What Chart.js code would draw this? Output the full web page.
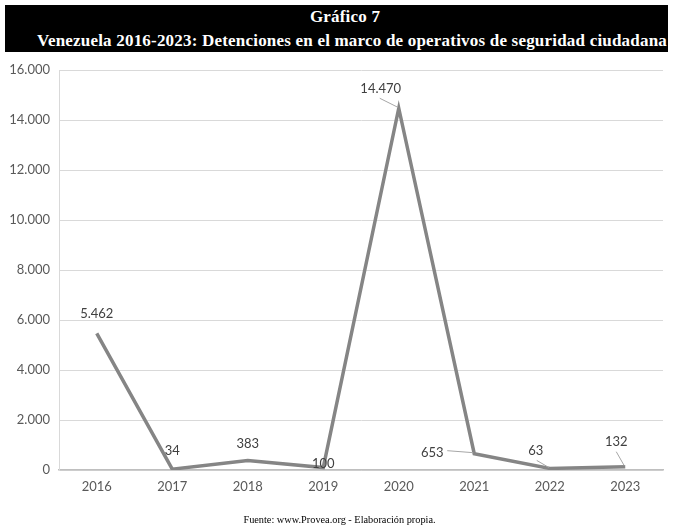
<!DOCTYPE html>
<html><head><meta charset="utf-8">
<script src="https://cdn.jsdelivr.net/npm/chart.js@4"></script>
<style>
html,body{margin:0;padding:0;background:#fff;width:679px;height:529px;overflow:hidden;}
#hdr{position:absolute;left:5px;top:5px;width:663px;height:47px;background:#000;color:#fff;font-family:"Liberation Serif",serif;font-weight:bold;font-size:17px;letter-spacing:0.2px;text-align:center;line-height:24px;}
#hdr div{white-space:nowrap;}
#l1{padding-left:17px;}
#l2{padding-left:31px;}
#wrap{position:absolute;left:0;top:0;width:679px;height:529px;}
#foot{position:absolute;left:0;top:514px;width:679px;text-align:center;font-family:"Liberation Serif",serif;font-size:10.3px;color:#000;}
</style></head><body>
<div id="wrap"><canvas id="c" width="679" height="529"></canvas></div>
<div id="hdr"><div id="l1">Gráfico 7</div><div id="l2">Venezuela 2016-2023: Detenciones en el marco de operativos de seguridad ciudadana</div></div>
<div id="foot">Fuente: www.Provea.org - Elaboración propia.</div>
<script>
const years = ["2016","2017","2018","2019","2020","2021","2022","2023"];
const detenciones = [5462, 34, 383, 100, 14470, 653, 63, 132];
const yTicks = [0,2000,4000,6000,8000,10000,12000,14000,16000];

function fmt(v){ return String(v).replace(/\B(?=(\d{3})+(?!\d))/g, "."); }

const labelPlugin = {
  id: 'dlabels',
  afterDatasetsDraw(chart, args, opts){
    const ctx = chart.ctx;
    const meta = chart.getDatasetMeta(0);
    ctx.save();
    ctx.font = opts.font;
    ctx.fillStyle = opts.color;
    ctx.textAlign = 'center';
    ctx.textBaseline = 'middle';
    meta.data.forEach((pt, i) => {
      const o = opts.offsets[i];
      const lx = pt.x + o[0], ly = pt.y + o[1];
      if (o[2]) {
        ctx.strokeStyle = opts.leaderColor;
        ctx.lineWidth = 1;
        ctx.beginPath();
        ctx.moveTo(lx + o[2][0], ly + o[2][1]);
        ctx.lineTo(pt.x - 1, pt.y - 1);
        ctx.stroke();
      }
      ctx.fillText(fmt(chart.data.datasets[0].data[i]), lx, ly);
    });
    ctx.restore();
  }
};

new Chart(document.getElementById('c'), {
  type: 'line',
  data: {
    labels: years,
    datasets: [{
      data: detenciones,
      borderColor: '#858585',
      borderWidth: 3.5,
      pointRadius: 0,
      tension: 0,
      fill: false
    }]
  },
  options: {
    responsive: false,
    animation: false,
    layout: { padding: { left: 0, right: 16, top: 70, bottom: 0 } },
    plugins: {
      legend: { display: false },
      tooltip: { enabled: false },
      dlabels: {
        font: '13px Lato',
        color: '#404040',
        leaderColor: '#a6a6a6',
        offsets: [
          [0, -20],
          [0, -18],
          [0, -17],
          [0, -4],
          [-18, -19, [-1, 9]],
          [-42, -1, [15, -2]],
          [-14, -18, [1, 10]],
          [-9, -25, [0, 10]]
        ]
      }
    },
    scales: {
      x: {
        offset: true,
        grid: { display: false, drawTicks: false },
        border: { display: true, color: '#bfbfbf', width: 1.5 },
        ticks: { color: '#595959', font: { family: 'Lato', size: 13 }, padding: 9, maxRotation: 0 },
        afterFit(s){ s.height = 59; }
      },
      y: {
        min: 0, max: 16000,
        afterBuildTicks(s){ s.ticks = yTicks.map(v => ({ value: v })); },
        grid: { color: '#d9d9d9', lineWidth: 1, drawTicks: false },
        border: { display: true, color: '#d9d9d9', width: 1 },
        ticks: { color: '#595959', font: { family: 'Lato', size: 13 }, padding: 9, callback: v => fmt(v) },
        afterFit(s){ s.width = 59; }
      }
    }
  },
  plugins: [labelPlugin]
});
</script>
</body></html>
